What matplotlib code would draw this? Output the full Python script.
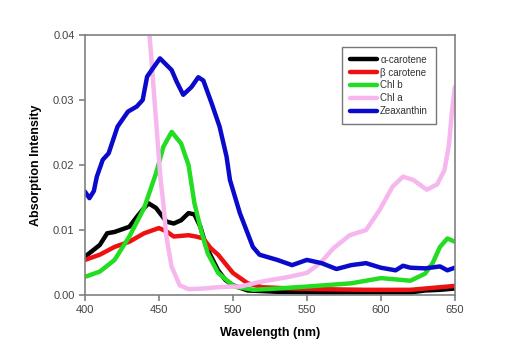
import numpy as np
import matplotlib.pyplot as plt

# values (wavelength in nm, absorption)
alpha_wl = [400, 410, 415, 420, 430, 435, 440, 443, 448, 455, 460, 465, 470, 474, 478,
            482, 490, 495, 500, 510, 530, 560, 600, 620, 630, 640, 650]
alpha_ab = [0.0059, 0.0077, 0.0095, 0.0097, 0.0105, 0.0120, 0.0134, 0.0141, 0.0134, 0.0113,
            0.0110, 0.0115, 0.0126, 0.0124, 0.0105, 0.0074, 0.0038, 0.0023, 0.0015, 0.0007,
            0.0005, 0.0004, 0.0004, 0.0004, 0.0007, 0.0008, 0.0010]

beta_wl = [400, 410, 420, 430, 440, 450, 455, 460, 470, 475, 480, 485, 490, 500, 510, 520,
           540, 560, 590, 620, 630, 640, 650]
beta_ab = [0.0054, 0.0062, 0.0074, 0.0082, 0.0095, 0.0103, 0.0098, 0.0090, 0.0092, 0.0090,
           0.0087, 0.0072, 0.0062, 0.0034, 0.0018, 0.0012, 0.0010, 0.0009, 0.0008, 0.0008,
           0.0010, 0.0012, 0.0014]

chlb_wl = [400, 410, 420, 430, 440, 448, 453, 458.6, 465, 470, 474, 479, 483, 490, 501, 514,
           530, 550, 580, 600, 610, 620, 630, 635, 640, 645, 650]
chlb_ab = [0.0028, 0.0036, 0.0054, 0.0090, 0.0134, 0.0187, 0.0228, 0.0251, 0.0233, 0.0200,
           0.0141, 0.0095, 0.0064, 0.0034, 0.0013, 0.0008, 0.0010, 0.0013, 0.0018, 0.0026,
           0.0024, 0.0022, 0.0033, 0.0049, 0.0074, 0.0087, 0.0082]

chla_wl = [443, 447, 451, 453, 455, 458.5, 464, 470, 480, 490, 500, 505, 518, 538, 550, 559,
           568, 579, 590, 599, 608, 615, 622, 631, 638, 643, 646, 648, 650]
chla_ab = [0.0420, 0.0300, 0.0180, 0.0140, 0.0090, 0.0044, 0.0015, 0.0009, 0.0010, 0.0012,
           0.0013, 0.0013, 0.0020, 0.0028, 0.0034, 0.0049, 0.0072, 0.0092, 0.0100, 0.0130,
           0.0167, 0.0182, 0.0177, 0.0162, 0.0170, 0.0192, 0.0230, 0.0280, 0.0320]

zea_wl = [400, 403, 406, 408, 412, 416, 422, 429, 435, 439, 442, 446, 450.7, 458.6, 462,
          466.4, 472, 476.6, 480, 485.6, 491, 495.7, 498, 504.7, 513.5, 518, 530, 540, 550,
          560, 570, 580, 590, 600, 610, 615, 620, 630, 640, 645, 650]
zea_ab = [0.0159, 0.0149, 0.0160, 0.0182, 0.0208, 0.0218, 0.0259, 0.0282, 0.0290, 0.0300,
          0.0336, 0.0349, 0.0364, 0.0346, 0.0328, 0.0308, 0.0320, 0.0335, 0.0330, 0.0295,
          0.0259, 0.0213, 0.0177, 0.0126, 0.0074, 0.0062, 0.0054, 0.0046, 0.0054, 0.0049,
          0.0040, 0.0046, 0.0049, 0.0042, 0.0038, 0.0045, 0.0042, 0.0041, 0.0044, 0.0038,
          0.0042]

series = [
    (alpha_wl, alpha_ab, "#000000", "α-carotene"),
    (beta_wl, beta_ab, "#ee1111", "β carotene"),
    (chlb_wl, chlb_ab, "#22dd22", "Chl b"),
    (chla_wl, chla_ab, "#f6b6ee", "Chl a"),
    (zea_wl, zea_ab, "#0a0acc", "Zeaxanthin"),
]

plt.rcParams["font.family"] = ["Liberation Sans", "DejaVu Sans"]

fig = plt.figure(figsize=(5.11, 3.56), dpi=100)
ax = fig.add_axes([0.1663, 0.1713, 0.7237, 0.7304])

for wl, ab, color, label in series:
    ax.plot(wl, ab, color=color, lw=3.2, label=label, solid_capstyle="round")

ax.set_xlim(400, 650)
ax.set_ylim(0, 0.04)
ax.set_xticks([400, 450, 500, 550, 600, 650])
ax.set_yticks([0, 0.01, 0.02, 0.03, 0.04])
ax.set_yticklabels(["0.00", "0.01", "0.02", "0.03", "0.04"])

for sp in ax.spines.values():
    sp.set_color("#808080")
    sp.set_linewidth(1.2)
ax.tick_params(direction="out", length=4, color="#808080", labelsize=8,
               labelcolor="#444444", width=1.2)

ax.set_xlabel("Wavelength (nm)", fontsize=9, fontweight="bold", labelpad=8)
ax.set_ylabel("Absorption Intensity", fontsize=9, fontweight="bold", labelpad=8)

leg = ax.legend(loc="upper right", bbox_to_anchor=(0.962, 0.973), fontsize=7,
                frameon=True, fancybox=False, edgecolor="#555555", handlelength=2.8,
                handletextpad=0.3, labelspacing=0.3, borderpad=0.8)
leg.get_frame().set_linewidth(1.0)
for h in leg.get_lines():
    h.set_linewidth(3.2)
for t in leg.get_texts():
    t.set_color("#333333")

fig.savefig("out.png", dpi=100)
